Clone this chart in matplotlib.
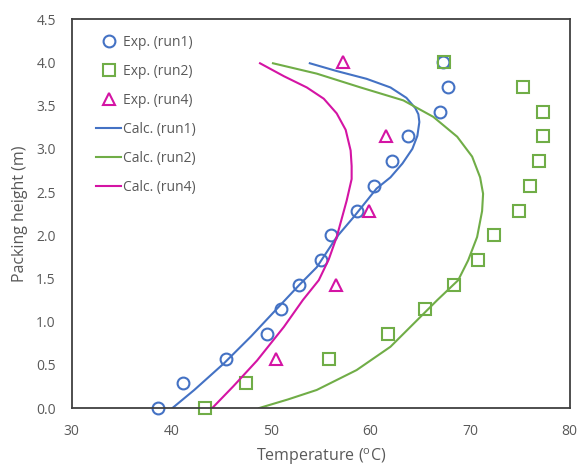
import numpy as np
from matplotlib import pyplot as plt

plt.rcParams['font.family'] = ['Open Sans', 'DejaVu Sans']
plt.rcParams['mathtext.fontset'] = 'custom'
plt.rcParams['mathtext.rm'] = 'Open Sans'

# heights of the measuring points (m)
h_exp = [0.0, 0.286, 0.571, 0.857, 1.143, 1.429, 1.714, 2.0, 2.286, 2.571, 2.857, 3.143, 3.429, 3.714, 4.0]
T_run1 = [38.7, 41.2, 45.5, 49.6, 51.0, 52.8, 55.0, 56.0, 58.6, 60.3, 62.2, 63.8, 67.0, 67.8, 67.3]
T_run2 = [43.4, 47.5, 55.8, 61.8, 65.5, 68.4, 70.8, 72.4, 74.9, 76.0, 76.9, 77.3, 77.3, 75.3, 67.4]
h_run4 = [0.571, 1.429, 2.286, 3.143, 4.0]
T_run4 = [50.5, 56.5, 59.8, 61.6, 57.2]

# calculated profiles
calc1_T = [40.1, 42.3, 45.3, 48.0, 50.6, 52.8, 54.6, 56.6, 58.3, 60.6, 62.0, 63.2, 64.2, 64.7, 64.9, 64.8, 64.5, 63.6, 62.0, 59.6, 56.6, 53.9]
calc1_h = [0.0, 0.21, 0.52, 0.83, 1.15, 1.42, 1.63, 1.98, 2.21, 2.54, 2.67, 2.83, 3.00, 3.15, 3.31, 3.40, 3.47, 3.59, 3.71, 3.81, 3.90, 3.99]
calc2_T = [48.8, 51.7, 54.6, 58.6, 62.0, 64.7, 66.7, 68.8, 69.8, 70.7, 71.2, 71.3, 71.0, 70.2, 68.7, 66.3, 63.3, 59.0, 54.6, 50.2]
calc2_h = [0.0, 0.10, 0.21, 0.44, 0.71, 1.02, 1.25, 1.48, 1.71, 1.98, 2.28, 2.48, 2.67, 2.91, 3.14, 3.37, 3.56, 3.71, 3.87, 3.99]
calc4_T = [44.1, 46.2, 47.4, 48.6, 51.3, 53.2, 54.8, 55.8, 56.6, 57.6, 58.1, 58.1, 58.0, 57.5, 56.6, 55.3, 53.6, 51.3, 48.9]
calc4_h = [0.0, 0.25, 0.40, 0.55, 0.94, 1.25, 1.48, 1.72, 1.98, 2.40, 2.65, 2.80, 2.98, 3.22, 3.41, 3.58, 3.71, 3.84, 3.99]

BLUE = '#4472C4'
GREEN = '#70AD47'
MAG = '#D414A4'
GREY = '#595959'

fig = plt.figure(figsize=(5.79, 4.68), dpi=100)
ax = fig.add_axes([0.124, 0.128, 0.86, 0.831])

ax.plot(T_run1, h_exp, 'o', mfc='none', mec=BLUE, ms=8.5, mew=1.5, label='Exp. (run1)', clip_on=False)
ax.plot(T_run2, h_exp, 's', mfc='none', mec=GREEN, ms=8.5, mew=1.5, label='Exp. (run2)', clip_on=False)
ax.plot(T_run4, h_run4, '^', mfc='none', mec=MAG, ms=8, mew=1.5, label='Exp. (run4)', clip_on=False)
ax.plot(calc1_T, calc1_h, '-', color=BLUE, lw=1.5, label='Calc. (run1)')
ax.plot(calc2_T, calc2_h, '-', color=GREEN, lw=1.5, label='Calc. (run2)')
ax.plot(calc4_T, calc4_h, '-', color=MAG, lw=1.5, label='Calc. (run4)')

ax.set_xlim(30, 80)
ax.set_ylim(0, 4.5)
ax.set_xticks(np.arange(30, 81, 10))
ax.set_yticks(np.arange(0, 4.51, 0.5))
ax.set_yticklabels(['%.1f' % v for v in np.arange(0, 4.51, 0.5)])
ax.tick_params(length=0, labelsize=10, labelcolor=GREY, pad=11.5)
for s in ax.spines.values():
    s.set_color('#404040')
    s.set_linewidth(1.3)

ax.set_xlabel('Temperature ($^{\\mathrm{o}}$C)', fontsize=11.5, color=GREY, labelpad=5)
ax.set_ylabel('Packing height (m)', fontsize=11.5, color=GREY, labelpad=6)

leg = ax.legend(loc='upper left', bbox_to_anchor=(0.03, 0.984), frameon=False, fontsize=10,
                labelspacing=1.0, handlelength=1.8, handletextpad=0.1, borderaxespad=0.3)
for t in leg.get_texts():
    t.set_color(GREY)

fig.savefig('out.png', dpi=100)
